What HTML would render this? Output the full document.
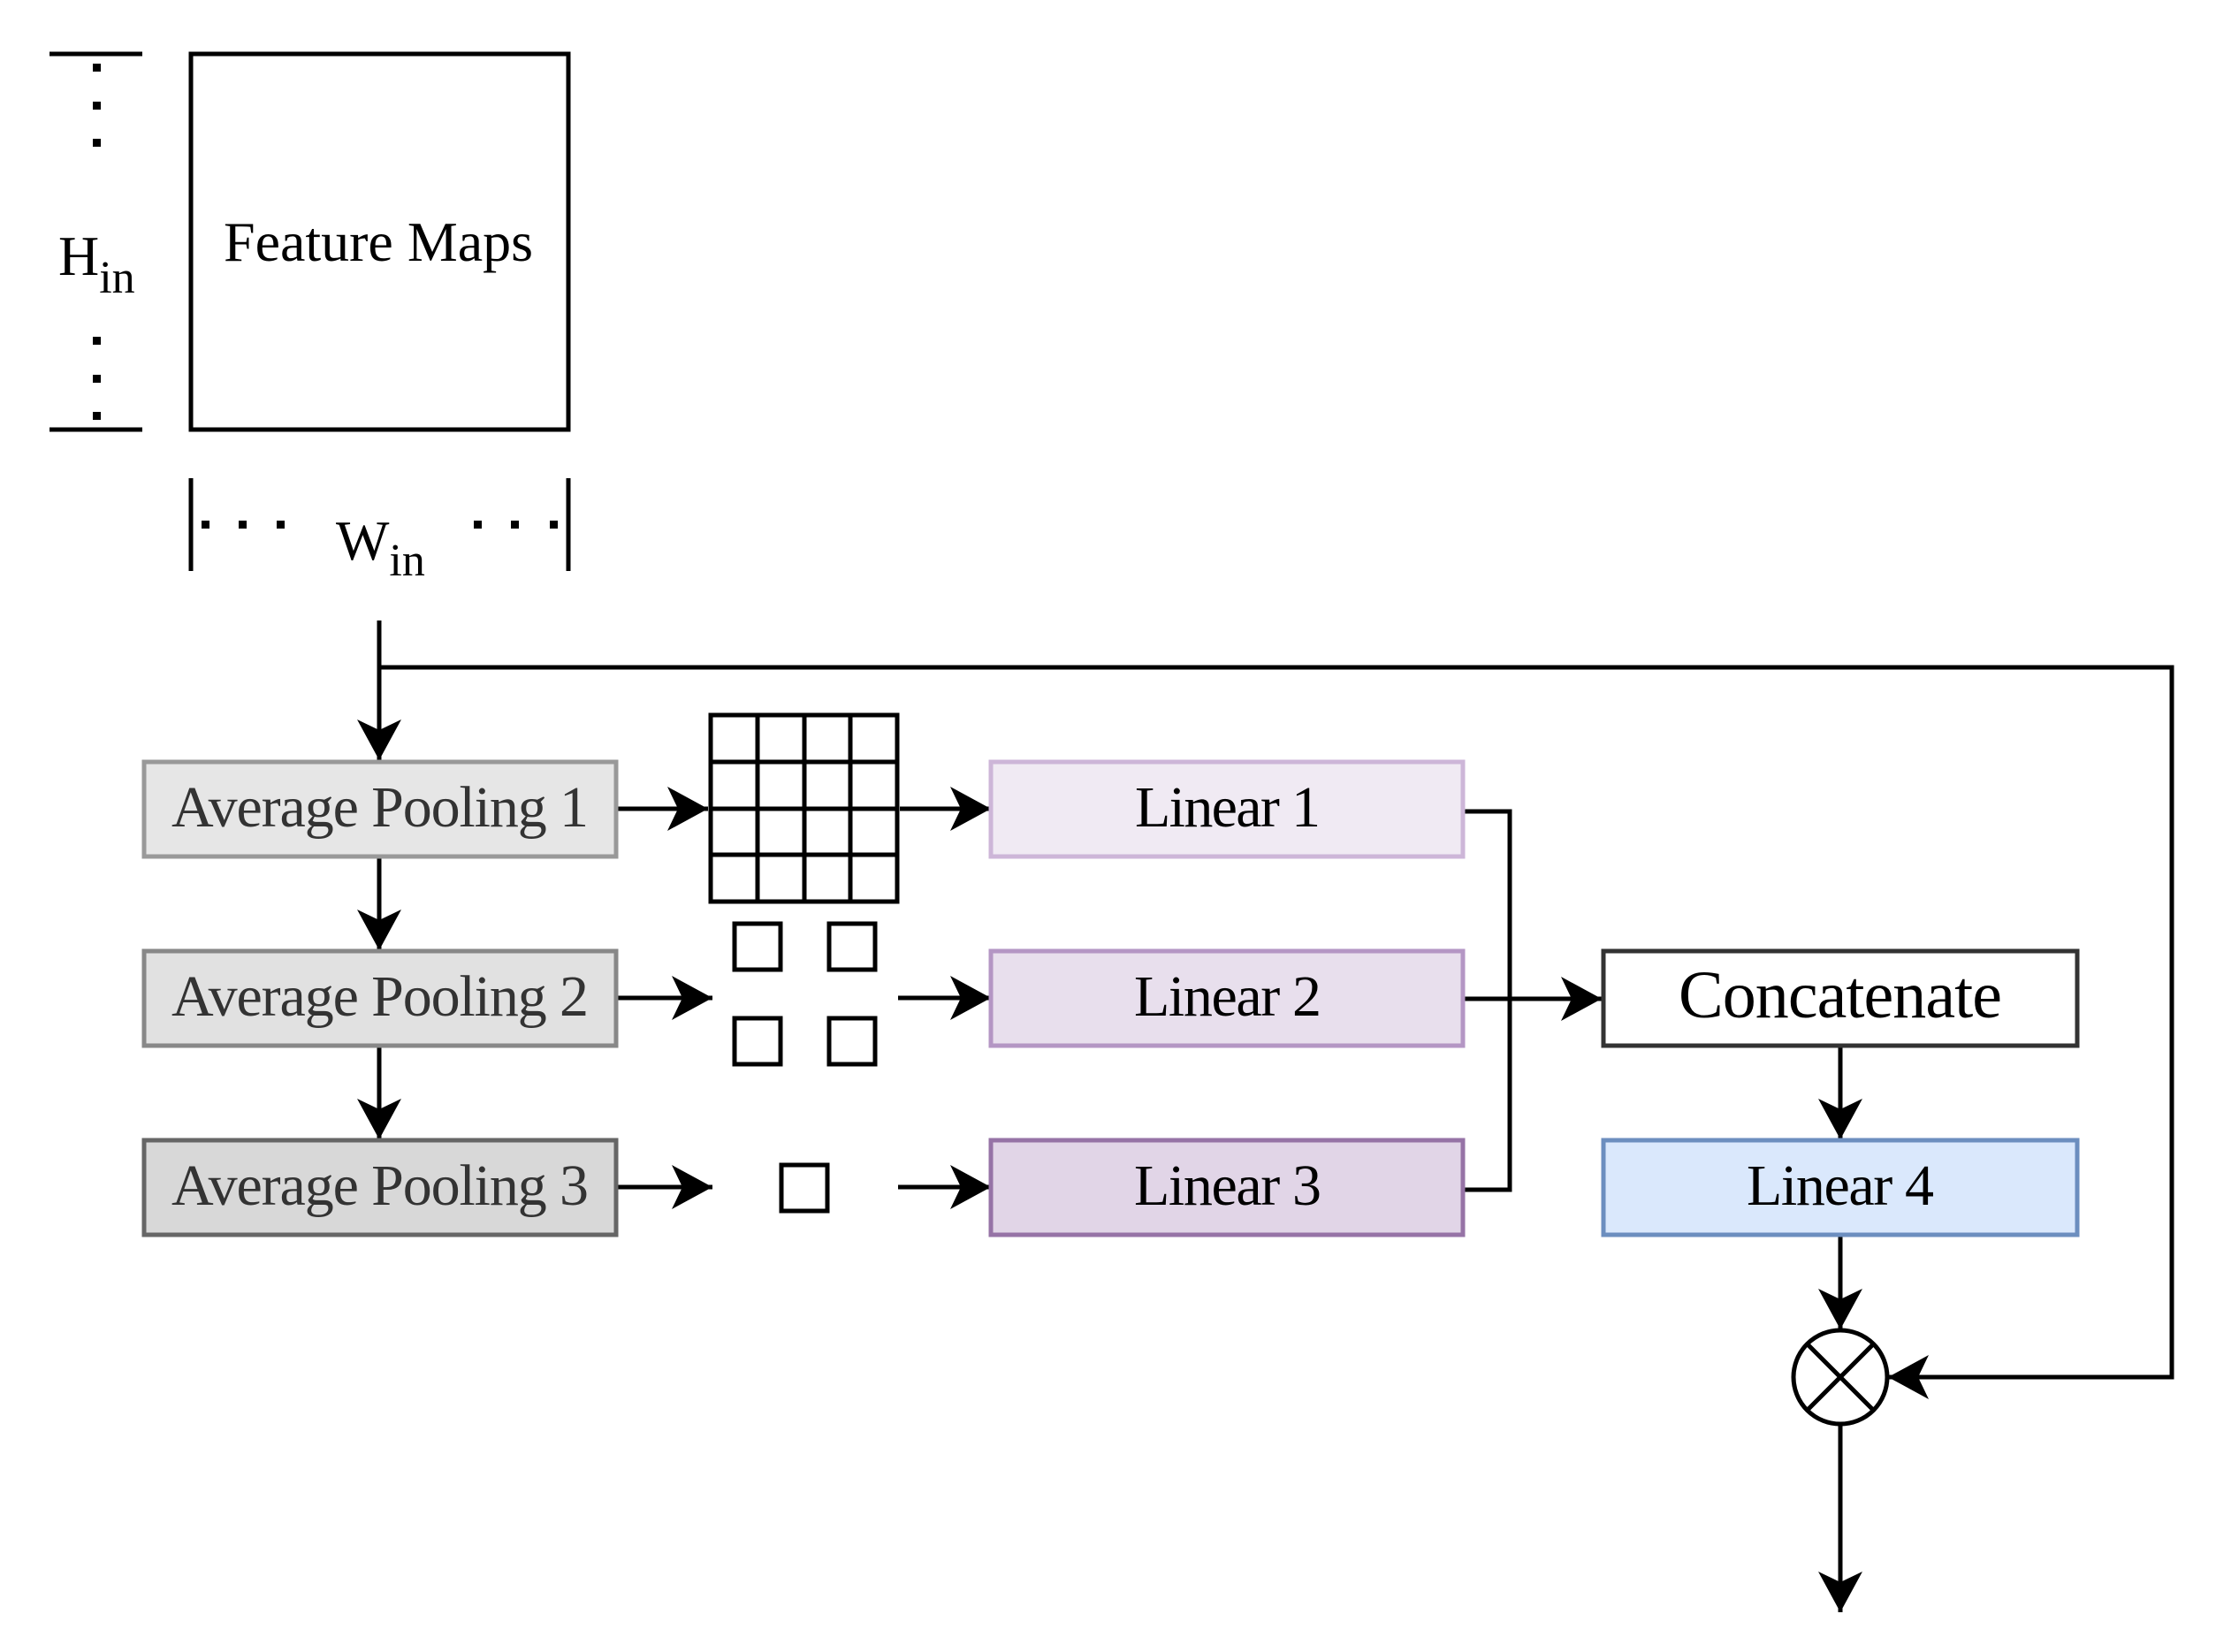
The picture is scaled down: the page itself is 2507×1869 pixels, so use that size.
<!DOCTYPE html>
<html><head><meta charset="utf-8"><style>
html,body{margin:0;padding:0;background:#fff;}
svg{display:block;}
text{font-family:"Liberation Serif",serif;}
</style></head><body>
<svg width="2507" height="1869" viewBox="0 0 2507 1869" xmlns="http://www.w3.org/2000/svg">
<defs>
<marker id="a" markerWidth="48" markerHeight="50" refX="46" refY="25" orient="auto" markerUnits="userSpaceOnUse">
<path d="M0,0 L46,25 L0,50 L12,25 Z" fill="#000"/>
</marker>
</defs>
<g stroke="#000" stroke-width="5" fill="none">
<rect x="216" y="61" width="427" height="425"/>
<line x1="56" y1="61" x2="161" y2="61"/>
<line x1="56" y1="486" x2="161" y2="486"/>
<line x1="216" y1="541" x2="216" y2="646"/>
<line x1="643" y1="541" x2="643" y2="646"/>
</g>
<g fill="#000">
<rect x="105" y="72" width="9" height="9"/><rect x="105" y="115" width="9" height="9"/><rect x="105" y="157" width="9" height="9"/>
<rect x="105" y="381" width="9" height="9"/><rect x="105" y="424" width="9" height="9"/><rect x="105" y="466" width="9" height="9"/>
<rect x="228" y="589" width="9" height="9"/><rect x="270" y="589" width="9" height="9"/><rect x="313" y="589" width="9" height="9"/>
<rect x="536" y="589" width="9" height="9"/><rect x="578" y="589" width="9" height="9"/><rect x="622" y="589" width="9" height="9"/>
</g>
<text x="428" y="295" font-size="64" text-anchor="middle" textLength="350">Feature Maps</text>
<text x="66" y="311" font-size="64">H<tspan font-size="52" dy="20">in</tspan></text>
<text x="380" y="633" font-size="64">W<tspan font-size="52" dy="18">in</tspan></text>

<g stroke="#000" stroke-width="5" fill="none">
<line x1="429" y1="702" x2="429" y2="860" marker-end="url(#a)"/>
<polyline points="429,755 2457,755 2457,1558 2136,1558" marker-end="url(#a)"/>
<line x1="429" y1="970" x2="429" y2="1075" marker-end="url(#a)"/>
<line x1="429" y1="1183" x2="429" y2="1289" marker-end="url(#a)"/>
<line x1="697" y1="915" x2="801" y2="915" marker-end="url(#a)"/>
<line x1="1018" y1="915" x2="1121" y2="915" marker-end="url(#a)"/>
<line x1="697" y1="1129" x2="806" y2="1129" marker-end="url(#a)"/>
<line x1="1016" y1="1129" x2="1121" y2="1129" marker-end="url(#a)"/>
<line x1="697" y1="1343" x2="806" y2="1343" marker-end="url(#a)"/>
<line x1="1016" y1="1343" x2="1121" y2="1343" marker-end="url(#a)"/>
<polyline points="1655,918 1708,918 1708,1346 1655,1346"/>
<line x1="1655" y1="1130" x2="1812" y2="1130" marker-end="url(#a)"/>
<line x1="2082" y1="1184" x2="2082" y2="1289" marker-end="url(#a)"/>
<line x1="2082" y1="1396" x2="2082" y2="1504" marker-end="url(#a)"/>
<line x1="2082" y1="1612" x2="2082" y2="1824" marker-end="url(#a)"/>
<rect x="804" y="809" width="211" height="211"/>
<line x1="857" y1="809" x2="857" y2="1020"/><line x1="910" y1="809" x2="910" y2="1020"/><line x1="962" y1="809" x2="962" y2="1020"/>
<line x1="804" y1="862" x2="1015" y2="862"/><line x1="804" y1="915" x2="1015" y2="915"/><line x1="804" y1="967" x2="1015" y2="967"/>
<rect x="831" y="1045" width="52" height="52"/>
<rect x="938" y="1045" width="52" height="52"/>
<rect x="831" y="1152" width="52" height="52"/>
<rect x="938" y="1152" width="52" height="52"/>
<rect x="884" y="1318" width="52" height="52"/>
<circle cx="2082" cy="1558" r="53"/>
<line x1="2045" y1="1521" x2="2119" y2="1595"/>
<line x1="2119" y1="1521" x2="2045" y2="1595"/>
</g>

<rect x="163" y="862" width="534" height="107" fill="#e6e6e6" stroke="#999" stroke-width="5"/>
<rect x="163" y="1076" width="534" height="107" fill="#e1e1e1" stroke="#888" stroke-width="5"/>
<rect x="163" y="1290" width="534" height="107" fill="#d8d8d8" stroke="#666" stroke-width="5"/>
<g font-size="66" fill="#333" text-anchor="middle">
<text x="430" y="935" textLength="472">Average Pooling 1</text>
<text x="430" y="1149" textLength="472">Average Pooling 2</text>
<text x="430" y="1363" textLength="472">Average Pooling 3</text>
</g>
<rect x="1121" y="862" width="534" height="107" fill="#f0eaf3" stroke="#cdb6d8" stroke-width="5"/>
<rect x="1121" y="1076" width="534" height="107" fill="#e8dfed" stroke="#b496c4" stroke-width="5"/>
<rect x="1121" y="1290" width="534" height="107" fill="#e1d5e7" stroke="#9673a6" stroke-width="5"/>
<rect x="1814" y="1076" width="536" height="107" fill="#fff" stroke="#333" stroke-width="5"/>
<rect x="1814" y="1290" width="536" height="107" fill="#dae8fc" stroke="#6c8ebf" stroke-width="5"/>
<g font-size="66" fill="#000" text-anchor="middle">
<text x="1389" y="935" textLength="210">Linear 1</text>
<text x="1389" y="1149" textLength="212">Linear 2</text>
<text x="1389" y="1363" textLength="212">Linear 3</text>
<text x="2082" y="1151" font-size="76" textLength="366">Concatenate</text>
<text x="2082" y="1363" textLength="212">Linear 4</text>
</g>
</svg>
</body></html>
